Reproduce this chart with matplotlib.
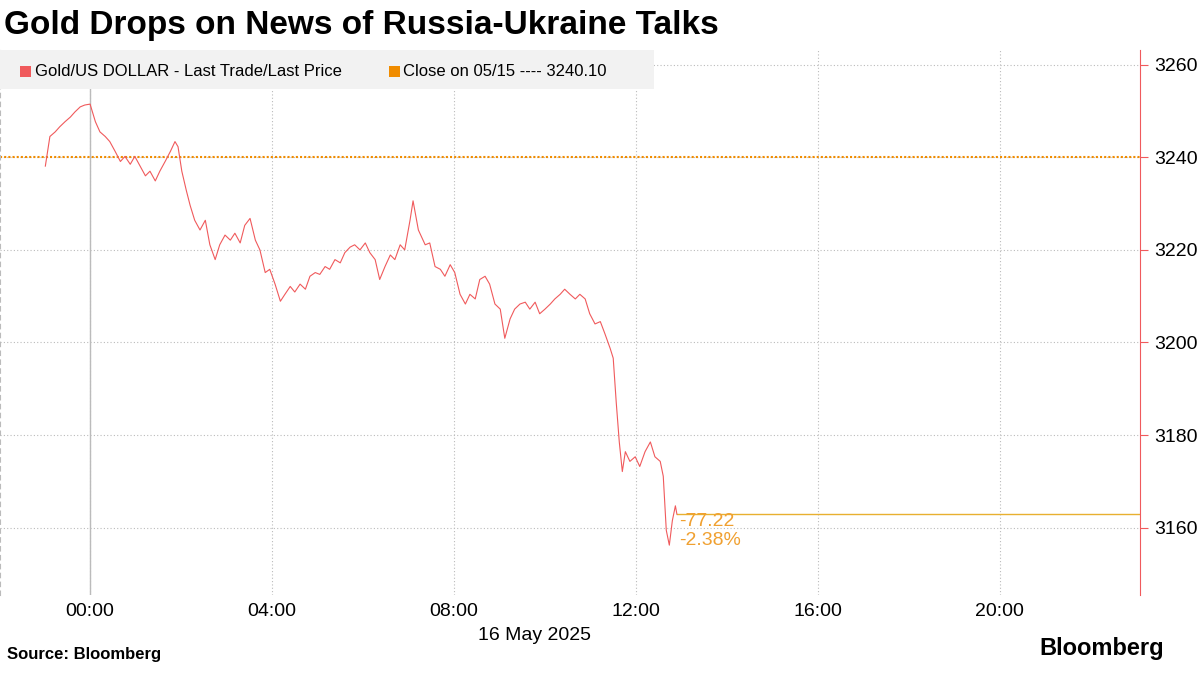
import numpy as np
import matplotlib
matplotlib.use("Agg")
import matplotlib.pyplot as plt

minutes = [-59,-53,-46,-40,-33,-26,-20,-13,-7,0,7,13,20,26,33,40,46,53,59,66,73,79,86,92,99,106,112,116,121,127,132,138,145,152,158,165,171,178,185,191,198,204,211,218,224,231,237,244,251,257,264,270,277,284,290,297,303,310,316,323,330,336,343,349,356,363,369,376,382,389,396,402,409,415,422,426,433,442,448,455,462,468,475,481,488,495,501,508,514,521,527,534,541,547,554,560,567,574,580,587,593,600,607,613,620,626,633,640,646,653,659,666,673,679,686,690,694,698,702,706,712,719,725,732,739,745,752,756,760,764,768,772,774]
prices = [3238.1,3244.5,3245.5,3246.6,3247.7,3248.7,3249.8,3250.9,3251.3,3251.5,3247.7,3245.5,3244.5,3243.4,3241.3,3239.1,3240.2,3238.5,3240.2,3238.1,3236.0,3237.0,3234.9,3237.0,3239.1,3241.3,3243.4,3242.3,3237.0,3232.8,3229.6,3226.4,3224.3,3226.4,3221.1,3217.9,3221.1,3223.2,3222.1,3223.6,3221.5,3225.3,3226.8,3222.1,3220.0,3215.1,3215.8,3212.6,3208.9,3210.4,3212.1,3210.9,3212.6,3211.5,3214.3,3215.1,3214.7,3216.4,3215.8,3217.9,3217.2,3219.4,3220.6,3221.1,3220.0,3221.5,3219.4,3217.9,3213.6,3216.4,3218.9,3217.9,3221.1,3220.0,3226.4,3230.6,3224.3,3221.1,3221.5,3216.4,3215.8,3214.3,3216.8,3215.1,3210.4,3208.3,3210.4,3209.4,3213.6,3214.3,3212.6,3208.3,3207.2,3200.9,3205.1,3207.2,3208.3,3208.7,3207.2,3208.7,3206.2,3207.2,3208.3,3209.4,3210.4,3211.5,3210.4,3209.4,3210.4,3209.4,3206.2,3204.0,3204.5,3201.9,3198.7,3196.6,3187.0,3178.5,3172.1,3176.4,3174.3,3175.3,3173.2,3176.4,3178.5,3175.3,3174.3,3171.1,3159.4,3156.2,3161.5,3164.7,3162.9]
prev_close = 3240.10
change = -77.22
change_pct = -2.38
tick_hours = [0, 4, 8, 12, 16, 20]
tick_labels = ["00:00", "04:00", "08:00", "12:00", "16:00", "20:00"]
y_ticks = [3160, 3180, 3200, 3220, 3240, 3260]

n = min(len(minutes), len(prices))
t = np.array(minutes[:n]) / 60.0
p = np.array(prices[:n])

plt.rcParams['font.family'] = ['Liberation Sans', 'DejaVu Sans']
fig = plt.figure(figsize=(12, 6.75), dpi=100)
ax = fig.add_axes([0.0, 0.119, 0.95, 0.807])
ax.set_xlim(-1.98, 23.08)
ax.set_ylim(3145.5, 3263.2)

red = '#f05a5c'
orange = '#f0a030'
ax.plot(t, p, color=red, lw=0.8, zorder=3)
ax.axhline(prev_close, color='#f08c00', lw=1.5, ls=(0, (1, 1)), zorder=2)
ax.plot([t[-1], 23.08], [p[-1], p[-1]], color='#e8b030', lw=1, zorder=2)
ax.axvline(0, color='#bbbbbb', lw=1, zorder=1)
ax.text(t[-1] + 0.05, p[-1] + 0.3, f"{change:.2f}\n{change_pct:.2f}%", color=orange,
        fontsize=14, va='top', ha='left', linespacing=1.15)

ax.set_xticks(tick_hours)
ax.set_xticklabels(tick_labels)
ax.set_yticks(y_ticks)
ax.yaxis.tick_right()
ax.grid(True, color='#bbbbbb', ls=(0, (1, 2)), lw=0.8)
for s in ['top', 'bottom']:
    ax.spines[s].set_visible(False)
ax.spines['right'].set_color(red)
ax.spines['left'].set_color('#bbbbbb')
ax.spines['left'].set_linestyle((0, (4, 4)))
ax.tick_params(axis='y', colors=red, labelcolor='black', labelsize=14, length=6, pad=4)
ax.tick_params(axis='x', length=0, labelsize=14, pad=6)
fig.text(0.445, 0.059, "16 May 2025", ha='center', va='center', fontsize=14)

# legend
fig.patches.append(matplotlib.patches.Rectangle((0.0, 0.868), 0.545, 0.058, transform=fig.transFigure,
                   facecolor='#f2f2f2', edgecolor='none', zorder=5))
fig.patches.append(matplotlib.patches.Rectangle((0.017, 0.886), 0.009, 0.016, transform=fig.transFigure,
                   facecolor=red, edgecolor='none', zorder=6))
fig.text(0.029, 0.894, "Gold/US DOLLAR - Last Trade/Last Price", fontsize=12, va='center', zorder=7)
fig.patches.append(matplotlib.patches.Rectangle((0.324, 0.886), 0.009, 0.016, transform=fig.transFigure,
                   facecolor='#f08c00', edgecolor='none', zorder=6))
fig.text(0.336, 0.894, "Close on 05/15 ---- 3240.10", fontsize=12, va='center', zorder=7)

fig.text(0.003, 0.962, "Gold Drops on News of Russia-Ukraine Talks", fontsize=24, fontweight='bold', va='center')
fig.text(0.006, 0.02, "Source: Bloomberg", fontsize=12, fontweight='bold', va='bottom')
fig.text(0.97, 0.022, "Bloomberg", fontsize=17, fontweight='bold', va='bottom', ha='right')
fig.savefig("out.png", dpi=100)
